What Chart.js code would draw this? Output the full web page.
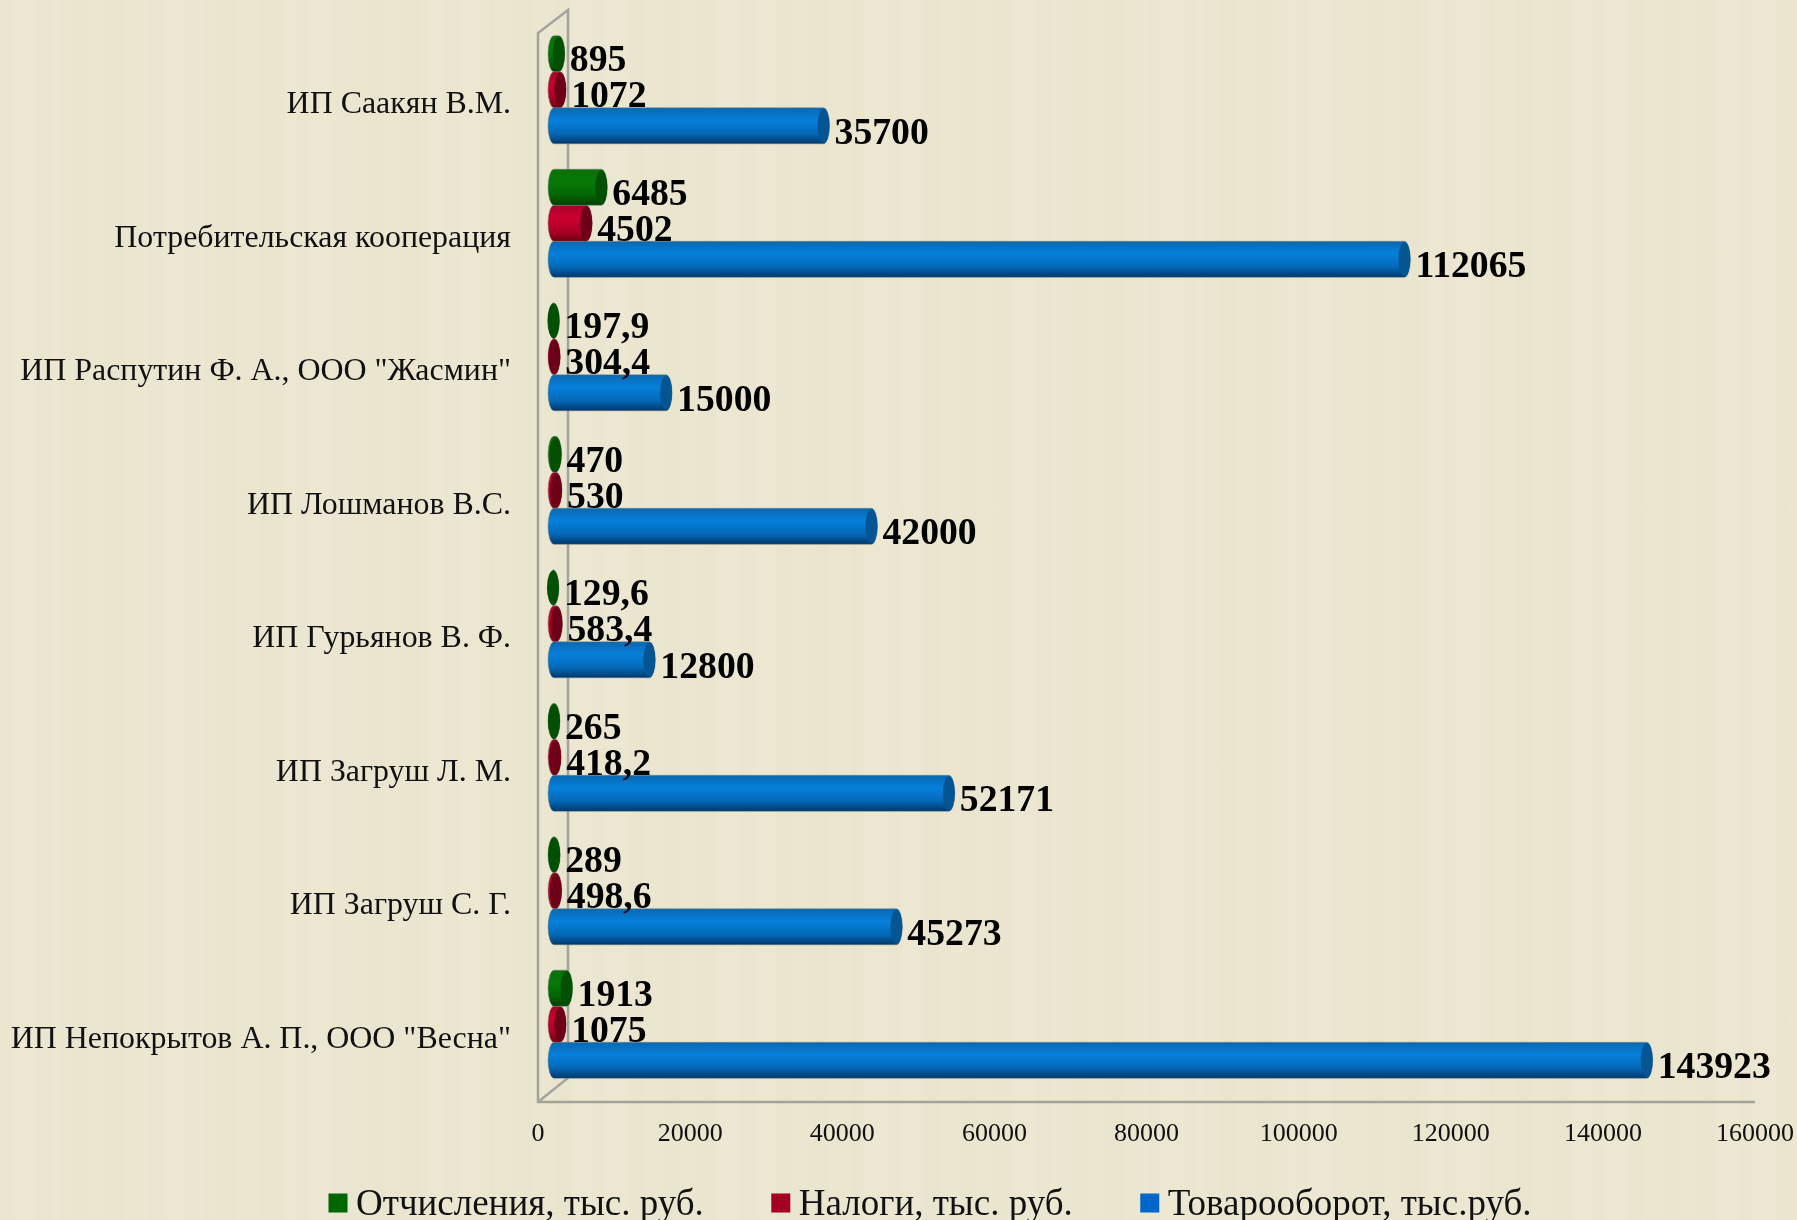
<!DOCTYPE html>
<html>
<head>
<meta charset="utf-8">
<script src="https://cdn.jsdelivr.net/npm/chart.js@4"></script>
<style>
    html, body {
        margin: 0;
        padding: 0;
        background-color: #ebe7d1;
        background-image:
            repeating-linear-gradient(90deg, rgba(120,130,90,0.012) 0 14px, rgba(255,255,240,0.012) 14px 37px),
            repeating-linear-gradient(90deg, rgba(255,255,240,0.015) 0 61px, rgba(120,130,90,0.01) 61px 143px);
    }
    canvas { display: block; }
</style>
</head>
<body>
<canvas id="myChart" width="1797" height="1220"></canvas>
<script>
const categories = ['ИП Саакян В.М.', 'Потребительская кооперация', 'ИП Распутин Ф. А., ООО "Жасмин"', 'ИП Лошманов В.С.', 'ИП Гурьянов В. Ф.', 'ИП Загруш Л. М.', 'ИП Загруш С. Г.', 'ИП Непокрытов А. П., ООО "Весна"'];
const otchisleniya = [895, 6485, 197.9, 470, 129.6, 265, 289, 1913];
const nalogi = [1072, 4502, 304.4, 530, 583.4, 418.2, 498.6, 1075];
const tovarooborot = [35700, 112065, 15000, 42000, 12800, 52171, 45273, 143923];
const xTicks = [0, 20000, 40000, 60000, 80000, 100000, 120000, 140000, 160000];

const legendColors = ['#006600', '#a50021', '#0066cc'];
// top, highlight, middle, bottom, end cap
const shades = [
    ['#0a6f0a', '#067a06', '#046404', '#023f02', '#034f03'],
    ['#a8002a', '#cc0030', '#ad0026', '#6e0016', '#6d0018'],
    ['#0a68b0', '#0680dc', '#0468b6', '#00376a', '#045592']
];

const serif = '"Liberation Serif", "Times New Roman", serif';
const gap = '\u00a0\u00a0\u00a0\u00a0\u00a0\u00a0';

function noPadding(axis) {
    axis.paddingLeft = axis.paddingRight = axis.paddingTop = axis.paddingBottom = 0;
}

// the frame of the 3D box, the back wall sits 30px to the right of the front one
const boxFrame = {
    id: 'boxFrame',
    afterLayout(chart) {
        // long category names are clipped to the axis box otherwise
        chart.scales.y.left = 0;
    },
    beforeDatasetsDraw(chart) {
        const c = chart.ctx, a = chart.chartArea;
        const x0 = a.left - 10, x1 = a.right - 10, y0 = a.top + 10, y1 = a.bottom + 11;
        c.save();
        c.strokeStyle = '#a3a39c';
        c.lineWidth = 2.5;
        c.beginPath();
        c.moveTo(x1, y1);
        c.lineTo(x0, y1);
        c.lineTo(x0, y0);
        c.lineTo(x0 + 30, y0 - 23);
        c.lineTo(x0 + 30, y1 - 24);
        c.lineTo(x0, y1);
        c.stroke();
        c.restore();
    }
};

// draws every bar as a cylinder in place of its rectangle, then writes the value
const cylinders = {
    id: 'cylinders',
    beforeDatasetDraw(chart, args) {
        const c = chart.ctx, s = shades[args.index];
        args.meta.data.forEach(function (bar) {
            const p = bar.getProps(['x', 'y', 'base', 'height'], true);
            const top = p.y - p.height / 2, bottom = p.y + p.height / 2, mid = p.y;
            const cx = p.x + 4, ry = p.height / 2;
            const g = c.createLinearGradient(0, top, 0, bottom);
            g.addColorStop(0, s[0]);
            g.addColorStop(0.35, s[1]);
            g.addColorStop(0.72, s[2]);
            g.addColorStop(1, s[3]);
            c.save();
            c.beginPath();
            c.ellipse(p.base + 6, mid, 6, ry, 0, Math.PI / 2, Math.PI * 1.5);
            c.ellipse(cx, mid, 6, ry, 0, -Math.PI / 2, Math.PI / 2);
            c.closePath();
            c.fillStyle = g;
            c.fill();
            c.strokeStyle = 'rgba(120,130,130,0.45)';
            c.lineWidth = 1;
            c.stroke();
            c.beginPath();
            c.ellipse(cx, mid, 6, ry - 1, 0, 0, Math.PI * 2);
            c.fillStyle = s[4];
            c.fill();
            c.restore();
        });
        return false;
    },
    afterDatasetsDraw(chart) {
        const c = chart.ctx;
        c.save();
        c.font = 'bold 37.7px ' + serif;
        c.fillStyle = '#000';
        c.textBaseline = 'middle';
        chart.data.datasets.forEach(function (ds, i) {
            chart.getDatasetMeta(i).data.forEach(function (bar, j) {
                const p = bar.getProps(['x', 'y'], true);
                c.fillText(String(ds.data[j]).replace('.', ','), p.x + 15, p.y + 8);
            });
        });
        c.restore();
    },
    afterDraw(chart) {
        // legend swatches sit closer to the text than the library puts them
        const c = chart.ctx;
        chart.legend.legendHitBoxes.forEach(function (h, i) {
            c.fillStyle = legendColors[i];
            c.fillRect(h.left + 10, h.top + h.height / 2 - 12, 19, 19);
        });
    }
};

new Chart(document.getElementById('myChart').getContext('2d'), {
    type: 'bar',
    data: {
        labels: categories,
        datasets: [
            { label: 'Отчисления, тыс. руб.' + gap, data: otchisleniya, backgroundColor: legendColors[0] },
            { label: 'Налоги, тыс. руб.' + gap, data: nalogi, backgroundColor: legendColors[1] },
            { label: 'Товарооборот, тыс.руб.', data: tovarooborot, backgroundColor: legendColors[2] }
        ]
    },
    plugins: [boxFrame, cylinders],
    options: {
        indexAxis: 'y',
        responsive: false,
        animation: false,
        layout: { padding: { left: 85, right: 32, top: 23, bottom: -14 } },
        categoryPercentage: 0.81,
        barPercentage: 1,
        scales: {
            x: {
                min: 0,
                max: 160000,
                afterBuildTicks(axis) { axis.ticks = xTicks.map(function (v) { return { value: v }; }); },
                afterFit(axis) { axis.height = 94; noPadding(axis); },
                grid: { display: false, drawTicks: false },
                border: { display: false },
                ticks: {
                    maxRotation: 0,
                    autoSkip: false,
                    padding: 28,
                    labelOffset: -10,
                    color: '#111',
                    font: { family: serif, size: 26 },
                    callback: function (v) { return String(v); }
                }
            },
            y: {
                afterFit(axis) { axis.width = 463; noPadding(axis); },
                grid: { display: false, drawTicks: false },
                border: { display: false },
                ticks: {
                    autoSkip: false,
                    padding: 37,
                    labelOffset: 15,
                    color: '#111',
                    font: { family: serif, size: 31.9 }
                }
            }
        },
        plugins: {
            tooltip: { enabled: false },
            legend: {
                position: 'bottom',
                labels: {
                    boxWidth: 19,
                    boxHeight: 19,
                    padding: 2,
                    color: '#111',
                    font: { family: serif, size: 37 },
                    generateLabels(chart) {
                        return Chart.defaults.plugins.legend.labels.generateLabels(chart).map(function (l) {
                            l.fillStyle = 'transparent';
                            l.strokeStyle = 'transparent';
                            return l;
                        });
                    }
                }
            }
        }
    }
});
</script>
</body>
</html>
